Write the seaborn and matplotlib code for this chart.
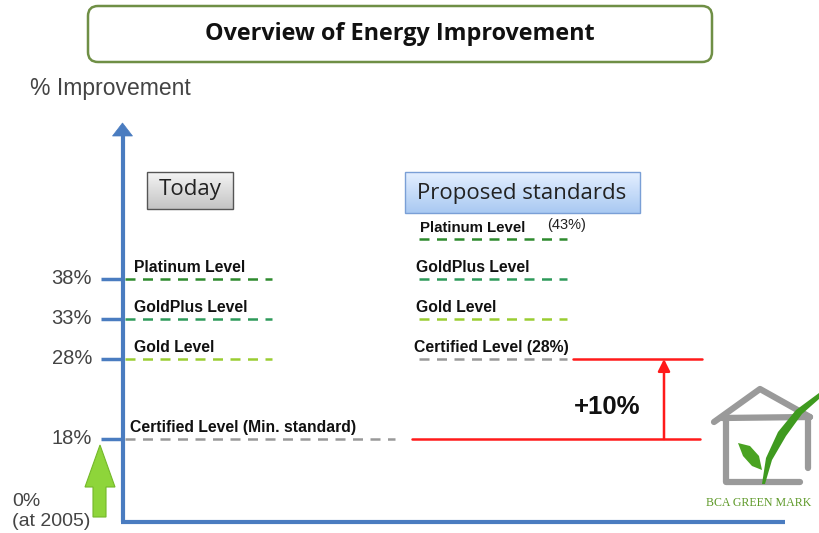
import numpy as np
import pandas as pd
import matplotlib
matplotlib.use("Agg")
import matplotlib.pyplot as plt
import matplotlib.transforms as mtransforms
from matplotlib.patches import FancyBboxPatch, Polygon
import seaborn as sns

# ---------------- data ----------------
today_levels = ["Platinum Level", "GoldPlus Level", "Gold Level", "Certified Level (Min. standard)"]
today_values = [38, 33, 28, 18]
proposed_levels = ["Platinum Level", "GoldPlus Level", "Gold Level", "Certified Level (28%)"]
proposed_values = [43, 38, 33, 28]
level_colors = ["#2e8b2e", "#2e9a5a", "#9acd32", "#999999"]
tick_values = [38, 33, 28, 18]
tick_labels = ["38%", "33%", "28%", "18%"]
increase_from = 18
increase_to = 28

sns.set_theme(style="white")
plt.rcParams["font.family"] = ["Liberation Sans", "DejaVu Sans"]

W, H = 819, 533
fig = plt.figure(figsize=(W / 100, H / 100), dpi=100)
ax = fig.add_axes([0, 0, 1, 1])
ax.set_xlim(0, W)
# y in % improvement: 18% sits at pixel row 439, 8 px per %
ax.set_ylim(18 - (H - 439) / 8, 18 + 439 / 8)
ax.axis("off")

# pixel transform (origin top-left)
pix = mtransforms.Affine2D().scale(1 / W, -1 / H).translate(0, 1) + fig.transFigure

# ---------- title box ----------
ax.add_patch(FancyBboxPatch((88, 6), 624, 56, boxstyle="round,pad=0,rounding_size=10",
                            transform=pix, fc="white", ec="#6f8f45", lw=1.8))
ax.text(400, 34, "Overview of Energy Improvement", transform=pix, ha="center", va="center",
        fontsize=16.8, fontweight="bold", family=["Open Sans", "DejaVu Sans"], color="#111111")

ax.text(30, 88, "% Improvement", transform=pix, ha="left", va="center",
        fontsize=16.5, color="#444444")

# ---------- gradient boxes ----------
def grad_box(x0, y0, w, h, c_top, c_bot, ec):
    p = FancyBboxPatch((x0, y0), w, h, boxstyle="square,pad=0", transform=pix,
                       fc="none", ec=ec, lw=1.0, zorder=3)
    ax.add_patch(p)
    grad = np.linspace(0, 1, 64)[:, None, None]
    c1 = np.array(matplotlib.colors.to_rgb(c_top))
    c2 = np.array(matplotlib.colors.to_rgb(c_bot))
    img = c1 * (1 - grad) + c2 * grad
    im = ax.imshow(img, extent=(0, 1, 0, 1), aspect="auto", zorder=2,
                   transform=mtransforms.Affine2D().scale(w, -h).translate(x0, y0 + h) + pix)
    im.set_clip_path(p)

grad_box(147, 172, 86, 37, "#f4f4f4", "#c4c4c4", "#555555")
ax.text(190, 190, "Today", transform=pix, ha="center", va="center", fontsize=16,
        family=["Open Sans", "DejaVu Sans"], color="#222222", zorder=4)
grad_box(405, 172, 235, 41, "#e4efff", "#a9c9f2", "#7a9fd6")
ax.text(522, 193, "Proposed standards", transform=pix, ha="center", va="center", fontsize=16,
        family=["Open Sans", "DejaVu Sans"], color="#222222", zorder=4)

# ---------- blue axis ----------
blue = "#4a7cc0"
ax.plot([122.5, 122.5], [522, 132], transform=pix, color=blue, lw=3, solid_capstyle="butt")
ax.add_patch(Polygon([[112.5, 136], [122.5, 123], [132.5, 136]], closed=True, transform=pix,
                     fc=blue, ec=blue, lw=0.5))
ax.plot([121, 785], [522, 522], transform=pix, color=blue, lw=3, solid_capstyle="butt")

# ticks + labels
for v, lab in zip(tick_values, tick_labels):
    ax.plot([101, 123], [v, v], color=blue, lw=2.5, solid_capstyle="butt")
    ax.annotate(lab, xy=(92, v), ha="right", va="center", fontsize=14.5, color="#444444")
ax.text(12, 501, "0%", transform=pix, ha="left", va="center", fontsize=14, color="#444444")
ax.text(12, 522, "(at 2005)", transform=pix, ha="left", va="center", fontsize=14, color="#444444")

# ---------- level lines ----------
for i, (lab, v, c) in enumerate(zip(today_levels, today_values, level_colors)):
    x_end = 395 if i == 3 else 272
    df = pd.DataFrame({"x": [125, x_end], "y": [v, v]})
    sns.lineplot(data=df, x="x", y="y", ax=ax, color=c, lw=1.8, linestyle=(0, (4, 3)))
    ax.annotate(lab, xy=(134 if i < 3 else 130, v), xytext=(0, 8), textcoords="offset points",
                ha="left", va="center", fontsize=11.3, fontweight="bold", color="#111111")

for i, (lab, v, c) in enumerate(zip(proposed_levels, proposed_values, level_colors)):
    df = pd.DataFrame({"x": [419, 567], "y": [v, v]})
    sns.lineplot(data=df, x="x", y="y", ax=ax, color=c, lw=1.8, linestyle=(0, (4, 3)))
    ax.annotate(lab, xy=(420 if i == 0 else (414 if i == 3 else 416), v), xytext=(0, 8),
                textcoords="offset points", ha="left", va="center", fontsize=11.3 if i else 10.8,
                fontweight="bold", color="#111111")
ax.annotate("(43%)", xy=(547, proposed_values[0]), xytext=(0, 10), textcoords="offset points",
            ha="left", va="center", fontsize=10.5, color="#222222")

# ---------- red increase ----------
red = "#ff1a1a"
ax.plot([412, 700], [increase_from, increase_from], color=red, lw=1.8)
ax.plot([573, 702], [increase_to, increase_to], color=red, lw=1.8)
ax.annotate("", xy=(664, increase_to), xytext=(664, increase_from),
            arrowprops=dict(arrowstyle="-|>,head_length=0.6,head_width=0.3", color=red, lw=1.8,
                            shrinkA=0, shrinkB=0))
ax.text(607, 407, "+10%", transform=pix, ha="center", va="center", fontsize=18.5,
        fontweight="bold", color="#111111")

# ---------- green arrow ----------
ax.add_patch(Polygon([[100, 445], [115, 487], [106, 487], [106, 517], [93, 517], [93, 487],
                      [85, 487]], closed=True, transform=pix, fc="#8ed53a", ec="#74b82a", lw=0.8))

# ---------- logo ----------
gray = "#9a9a9a"
kw = dict(transform=pix, color=gray, lw=4.5, solid_capstyle="round", solid_joinstyle="round")
ax.plot([714, 760, 810], [422, 389, 417], **kw)
ax.plot([722, 810], [418, 417], **kw)
ax.plot([726, 726, 800], [418, 482, 482], **kw)
ax.plot([808, 808], [417, 468], **kw)
ax.add_patch(Polygon([[762, 484], [766, 458], [778, 432], [796, 410], [819, 393], [819, 399],
                      [802, 414], [786, 436], [772, 460], [765, 484]], closed=True, transform=pix,
                     fc="#3f9a1f", ec="none", zorder=3))
ax.add_patch(Polygon([[738, 443], [750, 446], [759, 456], [762, 470], [752, 466], [743, 456]],
                     closed=True, transform=pix, fc="#4aa322", ec="none", zorder=3))
ax.text(706, 503, "BCA GREEN MARK", transform=pix, ha="left", va="center", fontsize=8.6,
        family=["Liberation Serif", "DejaVu Serif"], color="#5f9a2a")

fig.savefig("out.png", dpi=100)
